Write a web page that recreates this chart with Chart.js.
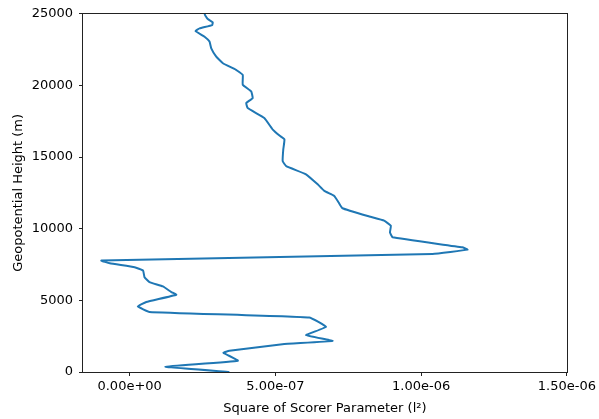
<!DOCTYPE html>
<html>
<head>
<meta charset="utf-8">
<script src="https://cdn.jsdelivr.net/npm/chart.js@4/dist/chart.umd.min.js"></script>
<style>
html,body{margin:0;padding:0;background:#fff;}
#c{display:block;}
</style>
</head>
<body>
<canvas id="c" width="599" height="419"></canvas>
<script>
// Geopotential height (m)
const heights = [0, 370, 790, 1340, 1480, 1940, 2170, 2570, 3150, 3800,
  4190, 4580, 4880, 5390, 5580, 5970, 6270, 6620, 7080, 7310, 7590, 7780,
  8240, 8540, 8700, 9400, 9740, 10210, 10560, 10850, 11430, 11830, 12290,
  12640, 13100, 13800, 14370, 14720, 15530, 16230, 16500, 16920, 17730,
  18420, 18770, 19120, 19580, 20050, 20740, 21090, 21550, 22010, 22590,
  23060, 23400, 23800, 23980, 24210, 24400, 24630, 24860, 25000];
// Square of Scorer parameter (l^2)
const scorerSq = [3.42e-7, 1.23e-7, 3.71e-7, 3.22e-7, 3.42e-7, 5.24e-7, 6.96e-7, 6.05e-7, 6.74e-7, 6.16e-7,
  0.68e-7, 0.28e-7, 0.57e-7, 1.60e-7, 1.43e-7, 1.14e-7, 0.68e-7, 0.51e-7, 0.46e-7, 0.17e-7, -0.68e-7, -0.97e-7,
  10.39e-7, 11.59e-7, 11.41e-7, 9.02e-7, 8.93e-7, 8.96e-7, 8.73e-7, 8.22e-7, 7.30e-7, 7.17e-7, 7.02e-7,
  6.68e-7, 6.45e-7, 6.05e-7, 5.37e-7, 5.25e-7, 5.27e-7, 5.31e-7, 5.14e-7, 4.91e-7, 4.62e-7,
  4.05e-7, 4.00e-7, 4.22e-7, 4.17e-7, 3.88e-7, 3.88e-7, 3.65e-7, 3.20e-7, 2.97e-7, 2.80e-7,
  2.74e-7, 2.57e-7, 2.26e-7, 2.40e-7, 2.83e-7, 2.85e-7, 2.68e-7, 2.60e-7, 2.57e-7];
const xTicks = [0, 5e-7, 1e-6, 1.5e-6];
const yTicks = [0, 5000, 10000, 15000, 20000, 25000];

function fmtExp(v) {
  const parts = v.toExponential(2).split('e');
  const sign = parts[1][0];
  const digits = parts[1].slice(1).padStart(2, '0');
  return parts[0] + 'e' + sign + digits;
}

const FONT = "'DejaVu Sans', sans-serif";

const framePlugin = {
  id: 'frame',
  afterDatasetsDraw(chart) {
    const a = chart.chartArea;
    const ctx = chart.ctx;
    ctx.save();
    ctx.strokeStyle = '#222';
    ctx.lineWidth = 1;
    ctx.strokeRect(Math.round(a.left) - 0.5, Math.round(a.top) - 0.5,
      Math.round(a.right - a.left) + 1, Math.round(a.bottom - a.top) + 1);
    ctx.restore();
  }
};

new Chart(document.getElementById('c'), {
  type: 'scatter',
  data: {
    datasets: [{
      data: heights.map((h, i) => ({x: scorerSq[i], y: h})),
      showLine: true,
      borderColor: '#1f77b4',
      backgroundColor: '#1f77b4',
      borderWidth: 2,
      pointRadius: 0,
      tension: 0.1
    }]
  },
  options: {
    responsive: false,
    animation: false,
    devicePixelRatio: 1,
    layout: {padding: {top: 12, right: 31, left: 0, bottom: 0}},
    plugins: {legend: {display: false}, tooltip: {enabled: false}},
    scales: {
      x: {
        type: 'linear',
        min: -1.6e-7,
        max: 1.5e-6,
        afterBuildTicks(scale) { scale.ticks = xTicks.map(v => ({value: v})); },
        afterFit(scale) { scale.height = 47; },
        border: {display: false},
        grid: {drawOnChartArea: false, drawTicks: true, tickLength: 4, color: '#222'},
        ticks: {
          color: '#000',
          font: {family: FONT, size: 13},
          padding: 3,
          maxRotation: 0,
          callback: v => fmtExp(v)
        },
        title: {
          display: true,
          text: 'Square of Scorer Parameter (l²)',
          color: '#000',
          font: {family: FONT, size: 13},
          padding: {top: 0, bottom: 3}
        }
      },
      y: {
        type: 'linear',
        min: 0,
        max: 25000,
        afterBuildTicks(scale) { scale.ticks = yTicks.map(v => ({value: v})); },
        afterFit(scale) { scale.width = 83; },
        border: {display: false},
        grid: {drawOnChartArea: false, drawTicks: true, tickLength: 4, color: '#222'},
        ticks: {
          color: '#000',
          font: {family: FONT, size: 13},
          padding: 6,
          callback: v => String(v)
        },
        title: {
          display: true,
          text: 'Geopotential Height (m)',
          color: '#000',
          font: {family: FONT, size: 13},
          padding: {top: 11, bottom: 0}
        }
      }
    }
  },
  plugins: [framePlugin]
});
</script>
</body>
</html>
